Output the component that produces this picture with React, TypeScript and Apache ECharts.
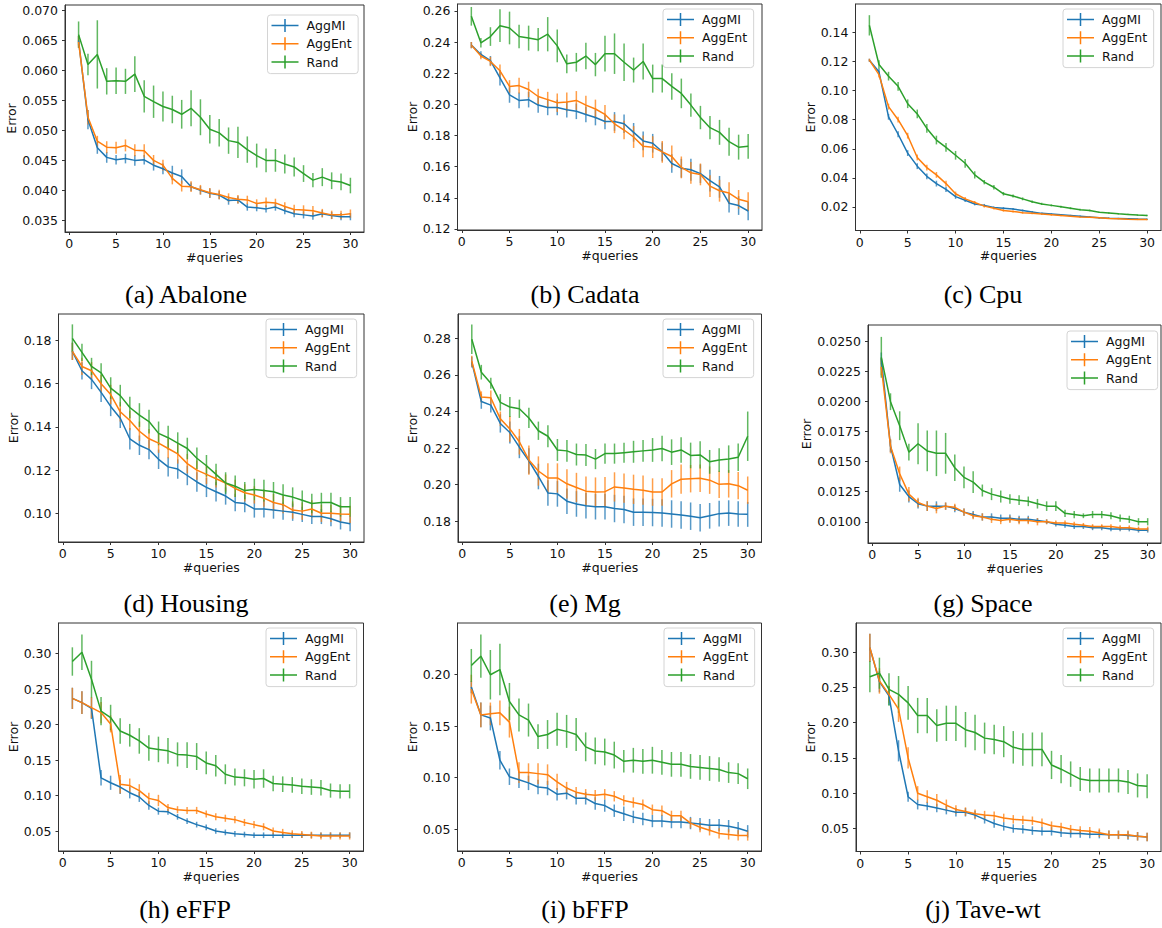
import React, { useEffect, useRef } from 'react';
import * as echarts from 'echarts';

const queries = [1, 2, 3, 4, 5, 6, 7, 8, 9, 10, 11, 12, 13, 14, 15, 16, 17, 18, 19, 20, 21, 22, 23, 24, 25, 26, 27, 28, 29, 30];
const xTickLabels = ['0', '5', '10', '15', '20', '25', '30'];
const seriesNames = ['AggMI', 'AggEnt', 'Rand'];

// (a) Abalone
const abaloneAggMI = [0.0650, 0.0518, 0.0471, 0.0455, 0.0451, 0.0453, 0.0450, 0.0451, 0.0442, 0.0436, 0.0429, 0.0423, 0.0406, 0.0400, 0.0395, 0.0392, 0.0383, 0.0384, 0.0372, 0.0371, 0.0369, 0.0372, 0.0366, 0.0361, 0.0359, 0.0357, 0.0361, 0.0358, 0.0356, 0.0356];
const abaloneAggMIErr = [0.0008, 0.0016, 0.0010, 0.0009, 0.0008, 0.0008, 0.0009, 0.0008, 0.0009, 0.0009, 0.0012, 0.0012, 0.0007, 0.0007, 0.0008, 0.0007, 0.0007, 0.0006, 0.0006, 0.0006, 0.0006, 0.0006, 0.0006, 0.0006, 0.0006, 0.0006, 0.0006, 0.0006, 0.0006, 0.0006];
const abaloneAggEnt = [0.0648, 0.0522, 0.0482, 0.0472, 0.0471, 0.0475, 0.0467, 0.0466, 0.0450, 0.0442, 0.0420, 0.0407, 0.0406, 0.0401, 0.0396, 0.0393, 0.0388, 0.0385, 0.0384, 0.0378, 0.0380, 0.0379, 0.0373, 0.0368, 0.0367, 0.0366, 0.0362, 0.0359, 0.0359, 0.0361];
const abaloneAggEntErr = [0.0010, 0.0012, 0.0009, 0.0010, 0.0010, 0.0010, 0.0010, 0.0011, 0.0009, 0.0009, 0.0010, 0.0009, 0.0009, 0.0008, 0.0008, 0.0008, 0.0007, 0.0007, 0.0007, 0.0007, 0.0008, 0.0007, 0.0007, 0.0008, 0.0008, 0.0008, 0.0007, 0.0007, 0.0007, 0.0007];
const abaloneRand = [0.0660, 0.0610, 0.0627, 0.0582, 0.0583, 0.0582, 0.0594, 0.0557, 0.0548, 0.0540, 0.0535, 0.0527, 0.0537, 0.0522, 0.0502, 0.0496, 0.0483, 0.0480, 0.0468, 0.0458, 0.0450, 0.0450, 0.0444, 0.0439, 0.0428, 0.0417, 0.0422, 0.0416, 0.0414, 0.0408];
const abaloneRandErr = [0.0022, 0.0018, 0.0057, 0.0022, 0.0022, 0.0021, 0.0030, 0.0027, 0.0027, 0.0025, 0.0023, 0.0024, 0.0030, 0.0030, 0.0024, 0.0023, 0.0022, 0.0026, 0.0022, 0.0020, 0.0020, 0.0019, 0.0016, 0.0016, 0.0014, 0.0012, 0.0015, 0.0014, 0.0014, 0.0013];
const abaloneYTicks = ['0.035', '0.040', '0.045', '0.050', '0.055', '0.060', '0.065', '0.070'];

// (b) Cadata
const cadataAggMI = [0.238, 0.232, 0.228, 0.217, 0.206, 0.2025, 0.203, 0.1995, 0.198, 0.198, 0.1965, 0.1955, 0.1935, 0.1915, 0.189, 0.189, 0.1875, 0.182, 0.1765, 0.175, 0.1695, 0.162, 0.159, 0.158, 0.1555, 0.151, 0.147, 0.1365, 0.135, 0.1315];
const cadataAggMIErr = [0.002, 0.002, 0.003, 0.005, 0.005, 0.005, 0.005, 0.005, 0.005, 0.005, 0.005, 0.005, 0.005, 0.005, 0.005, 0.006, 0.006, 0.006, 0.006, 0.006, 0.006, 0.006, 0.006, 0.007, 0.006, 0.007, 0.007, 0.006, 0.006, 0.006];
const cadataAggEnt = [0.238, 0.231, 0.2275, 0.2215, 0.2115, 0.212, 0.2095, 0.205, 0.203, 0.201, 0.2015, 0.2025, 0.1995, 0.197, 0.1935, 0.1875, 0.1835, 0.179, 0.173, 0.1725, 0.1695, 0.1665, 0.1595, 0.156, 0.155, 0.1475, 0.1445, 0.143, 0.139, 0.1375];
const cadataAggEntErr = [0.002, 0.002, 0.003, 0.004, 0.004, 0.005, 0.005, 0.005, 0.005, 0.006, 0.006, 0.006, 0.006, 0.006, 0.006, 0.006, 0.006, 0.007, 0.007, 0.007, 0.007, 0.007, 0.007, 0.007, 0.007, 0.007, 0.007, 0.007, 0.006, 0.006];
const cadataRand = [0.2565, 0.2395, 0.2435, 0.2505, 0.249, 0.2435, 0.2425, 0.2415, 0.245, 0.2375, 0.226, 0.227, 0.231, 0.2255, 0.2325, 0.2325, 0.227, 0.222, 0.2275, 0.2165, 0.2165, 0.2115, 0.207, 0.1995, 0.1915, 0.185, 0.182, 0.176, 0.1725, 0.173];
const cadataRandErr = [0.006, 0.003, 0.006, 0.0105, 0.0105, 0.0075, 0.008, 0.0075, 0.011, 0.0105, 0.006, 0.006, 0.0085, 0.0075, 0.0115, 0.013, 0.012, 0.008, 0.0115, 0.009, 0.009, 0.0085, 0.0095, 0.0075, 0.0075, 0.0075, 0.008, 0.009, 0.008, 0.008];
const cadataYTicks = ['0.12', '0.14', '0.16', '0.18', '0.20', '0.22', '0.24', '0.26'];

// (c) Cpu
const cpuAggMI = [0.121, 0.113, 0.082, 0.070, 0.057, 0.048, 0.041, 0.036, 0.032, 0.027, 0.0245, 0.022, 0.021, 0.0195, 0.019, 0.0185, 0.0175, 0.0165, 0.0155, 0.015, 0.0145, 0.014, 0.0135, 0.013, 0.0125, 0.0122, 0.012, 0.0118, 0.0116, 0.0115];
const cpuAggMIErr = [0.001, 0.002, 0.002, 0.002, 0.002, 0.002, 0.002, 0.002, 0.0018, 0.0015, 0.0012, 0.001, 0.001, 0.0008, 0.0008, 0.0007, 0.0007, 0.0006, 0.0006, 0.0006, 0.0005, 0.0005, 0.0005, 0.0005, 0.0005, 0.0004, 0.0004, 0.0004, 0.0004, 0.0004];
const cpuAggEnt = [0.121, 0.111, 0.089, 0.080, 0.069, 0.054, 0.047, 0.042, 0.036, 0.029, 0.0255, 0.023, 0.0205, 0.019, 0.0175, 0.0168, 0.016, 0.0155, 0.015, 0.0145, 0.014, 0.0135, 0.013, 0.0128, 0.0125, 0.012, 0.0118, 0.0115, 0.0113, 0.0112];
const cpuAggEntErr = [0.001, 0.002, 0.002, 0.002, 0.002, 0.002, 0.002, 0.002, 0.002, 0.0015, 0.0012, 0.001, 0.001, 0.0008, 0.0008, 0.0007, 0.0007, 0.0006, 0.0006, 0.0006, 0.0005, 0.0005, 0.0005, 0.0005, 0.0005, 0.0004, 0.0004, 0.0004, 0.0004, 0.0004];
const cpuRand = [0.145, 0.118, 0.110, 0.103, 0.091, 0.084, 0.074, 0.066, 0.061, 0.0555, 0.050, 0.042, 0.037, 0.0335, 0.029, 0.0275, 0.0255, 0.0235, 0.022, 0.021, 0.020, 0.019, 0.018, 0.0175, 0.0162, 0.0158, 0.0152, 0.0148, 0.0143, 0.014];
const cpuRandErr = [0.007, 0.003, 0.003, 0.003, 0.003, 0.003, 0.003, 0.003, 0.003, 0.003, 0.003, 0.0025, 0.0015, 0.0015, 0.0012, 0.001, 0.001, 0.0008, 0.0008, 0.0007, 0.0007, 0.0007, 0.0006, 0.0006, 0.0005, 0.0005, 0.0005, 0.0005, 0.0005, 0.0005];
const cpuYTicks = ['0.02', '0.04', '0.06', '0.08', '0.10', '0.12', '0.14'];

// (d) Housing
const housingAggMI = [0.175, 0.166, 0.162, 0.156, 0.1495, 0.144, 0.1345, 0.1315, 0.1295, 0.125, 0.1215, 0.1205, 0.1175, 0.1145, 0.112, 0.110, 0.108, 0.105, 0.1045, 0.102, 0.102, 0.1015, 0.101, 0.1005, 0.0995, 0.0985, 0.0985, 0.0975, 0.096, 0.0952];
const housingAggMIErr = [0.004, 0.004, 0.0045, 0.0045, 0.0045, 0.0045, 0.005, 0.0045, 0.0045, 0.0045, 0.0045, 0.0045, 0.0045, 0.0045, 0.0045, 0.0045, 0.004, 0.004, 0.004, 0.004, 0.004, 0.004, 0.004, 0.004, 0.0035, 0.0035, 0.0035, 0.0035, 0.0035, 0.0035];
const housingAggEnt = [0.175, 0.168, 0.166, 0.160, 0.155, 0.147, 0.143, 0.138, 0.1345, 0.1325, 0.130, 0.1275, 0.123, 0.120, 0.118, 0.116, 0.114, 0.1115, 0.1095, 0.1085, 0.107, 0.105, 0.104, 0.1015, 0.101, 0.102, 0.100, 0.100, 0.0997, 0.0995];
const housingAggEntErr = [0.004, 0.004, 0.004, 0.004, 0.0045, 0.0045, 0.0045, 0.0045, 0.0045, 0.0045, 0.0045, 0.0045, 0.0045, 0.0045, 0.0045, 0.004, 0.004, 0.004, 0.004, 0.004, 0.004, 0.004, 0.004, 0.004, 0.004, 0.004, 0.004, 0.004, 0.004, 0.004];
const housingRand = [0.181, 0.1745, 0.168, 0.165, 0.158, 0.1545, 0.149, 0.1455, 0.1425, 0.137, 0.135, 0.1325, 0.130, 0.1255, 0.122, 0.118, 0.114, 0.1125, 0.1105, 0.111, 0.1105, 0.110, 0.1085, 0.1075, 0.106, 0.1045, 0.105, 0.105, 0.103, 0.103];
const housingRandErr = [0.0065, 0.004, 0.004, 0.0045, 0.005, 0.005, 0.005, 0.0055, 0.0055, 0.0055, 0.0055, 0.005, 0.005, 0.005, 0.005, 0.005, 0.005, 0.005, 0.004, 0.005, 0.005, 0.0045, 0.005, 0.0045, 0.0045, 0.0045, 0.0045, 0.0045, 0.0045, 0.0045];
const housingYTicks = ['0.10', '0.12', '0.14', '0.16', '0.18'];

// (e) Mg
const mgAggMI = [0.267, 0.2455, 0.2435, 0.2335, 0.2285, 0.2205, 0.213, 0.2045, 0.1955, 0.195, 0.191, 0.1895, 0.1885, 0.188, 0.188, 0.187, 0.1865, 0.185, 0.185, 0.1848, 0.1845, 0.184, 0.1835, 0.1828, 0.182, 0.183, 0.1842, 0.1845, 0.184, 0.1838];
const mgAggMIErr = [0.003, 0.004, 0.004, 0.005, 0.006, 0.006, 0.007, 0.007, 0.007, 0.007, 0.007, 0.007, 0.007, 0.007, 0.007, 0.0075, 0.0075, 0.0075, 0.0075, 0.0075, 0.0075, 0.0075, 0.0075, 0.0075, 0.0075, 0.007, 0.007, 0.007, 0.007, 0.0068];
const mgAggEnt = [0.2675, 0.248, 0.2475, 0.236, 0.2305, 0.2235, 0.2135, 0.2075, 0.2037, 0.2037, 0.2005, 0.1985, 0.1965, 0.196, 0.1962, 0.1988, 0.1982, 0.1975, 0.197, 0.196, 0.196, 0.2005, 0.203, 0.2033, 0.2035, 0.2025, 0.2002, 0.2005, 0.1995, 0.197];
const mgAggEntErr = [0.003, 0.003, 0.004, 0.004, 0.007, 0.007, 0.008, 0.008, 0.008, 0.008, 0.008, 0.008, 0.008, 0.008, 0.008, 0.008, 0.008, 0.008, 0.008, 0.0075, 0.0075, 0.0075, 0.008, 0.0075, 0.0075, 0.0075, 0.0075, 0.0075, 0.0075, 0.0075];
const mgRand = [0.2795, 0.2615, 0.2555, 0.245, 0.2425, 0.2415, 0.2365, 0.2295, 0.2265, 0.219, 0.2185, 0.2165, 0.2162, 0.214, 0.217, 0.217, 0.2175, 0.218, 0.2185, 0.219, 0.2198, 0.2178, 0.219, 0.216, 0.2163, 0.2125, 0.2135, 0.214, 0.215, 0.2265];
const mgRandErr = [0.008, 0.004, 0.003, 0.0045, 0.0055, 0.005, 0.0055, 0.005, 0.006, 0.006, 0.006, 0.006, 0.006, 0.0055, 0.0055, 0.0055, 0.0055, 0.006, 0.006, 0.0065, 0.007, 0.007, 0.007, 0.007, 0.0075, 0.0065, 0.0065, 0.0075, 0.0075, 0.0135];
const mgYTicks = ['0.18', '0.20', '0.22', '0.24', '0.26', '0.28'];

// (g) Space
const spaceAggMI = [0.0236, 0.0163, 0.0131, 0.0121, 0.0115, 0.0113, 0.0113, 0.0113, 0.0111, 0.0108, 0.0106, 0.0104, 0.0104, 0.0103, 0.0103, 0.0102, 0.0102, 0.0101, 0.0100, 0.0098, 0.0097, 0.0096, 0.0096, 0.0095, 0.0095, 0.0094, 0.0094, 0.0094, 0.0093, 0.0093];
const spaceAggMIErr = [0.0005, 0.0005, 0.0006, 0.0005, 0.0004, 0.0004, 0.0004, 0.0003, 0.0003, 0.0003, 0.0003, 0.0003, 0.0003, 0.0003, 0.0003, 0.0003, 0.0003, 0.0002, 0.0002, 0.0002, 0.0002, 0.0002, 0.0002, 0.0002, 0.0002, 0.0002, 0.0002, 0.0002, 0.0002, 0.0002];
const spaceAggEnt = [0.0229, 0.0163, 0.0140, 0.0123, 0.0116, 0.0113, 0.0111, 0.0113, 0.0112, 0.0108, 0.0105, 0.0104, 0.0102, 0.0101, 0.0102, 0.0101, 0.0101, 0.0100, 0.0100, 0.0099, 0.0099, 0.0098, 0.0097, 0.0096, 0.0096, 0.0096, 0.0095, 0.0095, 0.0094, 0.0094];
const spaceAggEntErr = [0.0007, 0.0006, 0.0006, 0.0006, 0.0004, 0.0004, 0.0004, 0.0003, 0.0003, 0.0003, 0.0003, 0.0003, 0.0003, 0.0003, 0.0003, 0.0003, 0.0003, 0.0003, 0.0002, 0.0002, 0.0002, 0.0002, 0.0002, 0.0002, 0.0002, 0.0002, 0.0002, 0.0002, 0.0002, 0.0002];
const spaceRand = [0.0237, 0.0200, 0.0180, 0.0158, 0.0165, 0.0159, 0.0157, 0.0157, 0.0145, 0.0137, 0.0133, 0.0126, 0.0123, 0.0121, 0.0119, 0.0118, 0.0117, 0.0115, 0.0113, 0.0113, 0.0107, 0.0106, 0.0105, 0.0106, 0.0106, 0.0105, 0.0103, 0.0102, 0.0100, 0.0100];
const spaceRandErr = [0.0017, 0.0007, 0.0012, 0.0007, 0.0017, 0.0017, 0.0019, 0.0017, 0.0011, 0.0009, 0.0009, 0.0005, 0.0005, 0.0005, 0.0004, 0.0004, 0.0004, 0.0004, 0.0004, 0.0004, 0.0003, 0.0003, 0.0002, 0.0003, 0.0003, 0.0003, 0.0003, 0.0003, 0.0003, 0.0003];
const spaceYTicks = ['0.0100', '0.0125', '0.0150', '0.0175', '0.0200', '0.0225', '0.0250'];

// (h) eFFP
const effpAggMI = [0.237, 0.231, 0.223, 0.125, 0.118, 0.112, 0.104, 0.098, 0.086, 0.078, 0.077, 0.070, 0.064, 0.059, 0.055, 0.050, 0.048, 0.046, 0.045, 0.044, 0.044, 0.044, 0.044, 0.044, 0.044, 0.044, 0.044, 0.044, 0.044, 0.044];
const effpAggMIErr = [0.015, 0.016, 0.015, 0.011, 0.010, 0.010, 0.008, 0.007, 0.006, 0.005, 0.004, 0.004, 0.004, 0.004, 0.004, 0.004, 0.004, 0.004, 0.004, 0.004, 0.004, 0.004, 0.004, 0.004, 0.004, 0.004, 0.004, 0.004, 0.004, 0.004];
const effpAggEnt = [0.237, 0.231, 0.224, 0.217, 0.201, 0.116, 0.114, 0.107, 0.096, 0.093, 0.083, 0.080, 0.079, 0.079, 0.074, 0.070, 0.068, 0.066, 0.062, 0.059, 0.056, 0.050, 0.048, 0.046, 0.045, 0.044, 0.043, 0.043, 0.043, 0.043];
const effpAggEntErr = [0.015, 0.016, 0.015, 0.015, 0.012, 0.013, 0.010, 0.009, 0.008, 0.008, 0.005, 0.005, 0.005, 0.005, 0.005, 0.005, 0.005, 0.005, 0.005, 0.005, 0.005, 0.005, 0.005, 0.005, 0.005, 0.005, 0.005, 0.005, 0.005, 0.005];
const effpRand = [0.289, 0.302, 0.264, 0.219, 0.210, 0.191, 0.185, 0.177, 0.167, 0.165, 0.163, 0.158, 0.157, 0.155, 0.146, 0.142, 0.130, 0.126, 0.125, 0.123, 0.124, 0.117, 0.116, 0.115, 0.113, 0.112, 0.111, 0.107, 0.106, 0.106];
const effpRandErr = [0.020, 0.025, 0.026, 0.020, 0.018, 0.018, 0.016, 0.018, 0.018, 0.018, 0.018, 0.017, 0.018, 0.019, 0.016, 0.015, 0.014, 0.012, 0.012, 0.013, 0.013, 0.011, 0.011, 0.011, 0.011, 0.011, 0.011, 0.010, 0.010, 0.010];
const effpYTicks = ['0.05', '0.10', '0.15', '0.20', '0.25', '0.30'];

// (i) bFFP
const bffpAggMI = [0.188, 0.161, 0.158, 0.117, 0.101, 0.098, 0.095, 0.091, 0.090, 0.084, 0.085, 0.080, 0.080, 0.075, 0.073, 0.068, 0.065, 0.062, 0.060, 0.058, 0.058, 0.057, 0.057, 0.056, 0.055, 0.054, 0.054, 0.053, 0.051, 0.048];
const bffpAggMIErr = [0.006, 0.012, 0.012, 0.009, 0.008, 0.008, 0.007, 0.007, 0.007, 0.006, 0.006, 0.006, 0.006, 0.006, 0.006, 0.006, 0.007, 0.006, 0.006, 0.006, 0.006, 0.006, 0.006, 0.006, 0.006, 0.006, 0.006, 0.006, 0.006, 0.006];
const bffpAggEnt = [0.186, 0.161, 0.162, 0.163, 0.154, 0.105, 0.105, 0.104, 0.103, 0.096, 0.090, 0.086, 0.084, 0.083, 0.084, 0.082, 0.078, 0.076, 0.074, 0.069, 0.068, 0.063, 0.063, 0.056, 0.052, 0.049, 0.046, 0.045, 0.044, 0.044];
const bffpAggEntErr = [0.014, 0.012, 0.011, 0.012, 0.015, 0.010, 0.009, 0.010, 0.010, 0.008, 0.006, 0.005, 0.005, 0.005, 0.005, 0.005, 0.005, 0.005, 0.005, 0.005, 0.005, 0.005, 0.005, 0.005, 0.005, 0.005, 0.005, 0.005, 0.005, 0.005];
const bffpRand = [0.209, 0.218, 0.200, 0.205, 0.174, 0.161, 0.156, 0.140, 0.142, 0.147, 0.145, 0.142, 0.130, 0.126, 0.125, 0.122, 0.116, 0.117, 0.116, 0.117, 0.115, 0.113, 0.113, 0.111, 0.110, 0.109, 0.108, 0.105, 0.104, 0.099];
const bffpRandErr = [0.016, 0.021, 0.024, 0.025, 0.018, 0.016, 0.016, 0.012, 0.014, 0.016, 0.016, 0.016, 0.014, 0.013, 0.013, 0.013, 0.011, 0.012, 0.012, 0.013, 0.012, 0.012, 0.012, 0.012, 0.012, 0.012, 0.012, 0.010, 0.010, 0.010];
const bffpYTicks = ['0.05', '0.10', '0.15', '0.20'];

// (j) Tave-wt
const tavewtAggMI = [0.306, 0.258, 0.238, 0.160, 0.095, 0.084, 0.082, 0.079, 0.076, 0.073, 0.073, 0.069, 0.063, 0.057, 0.053, 0.050, 0.049, 0.047, 0.046, 0.046, 0.044, 0.043, 0.043, 0.042, 0.042, 0.041, 0.041, 0.040, 0.039, 0.038];
const tavewtAggMIErr = [0.020, 0.015, 0.013, 0.015, 0.007, 0.007, 0.006, 0.006, 0.006, 0.006, 0.006, 0.006, 0.006, 0.006, 0.006, 0.006, 0.006, 0.006, 0.006, 0.006, 0.006, 0.006, 0.006, 0.006, 0.006, 0.006, 0.006, 0.006, 0.006, 0.006];
const tavewtAggEnt = [0.306, 0.259, 0.240, 0.219, 0.150, 0.100, 0.095, 0.090, 0.083, 0.077, 0.074, 0.071, 0.069, 0.068, 0.065, 0.063, 0.062, 0.061, 0.058, 0.054, 0.052, 0.049, 0.047, 0.046, 0.044, 0.041, 0.041, 0.041, 0.039, 0.038];
const tavewtAggEntErr = [0.020, 0.018, 0.012, 0.018, 0.015, 0.010, 0.009, 0.009, 0.008, 0.006, 0.006, 0.006, 0.006, 0.006, 0.006, 0.006, 0.006, 0.006, 0.006, 0.006, 0.006, 0.006, 0.006, 0.006, 0.006, 0.006, 0.006, 0.006, 0.006, 0.006];
const tavewtRand = [0.265, 0.270, 0.247, 0.240, 0.228, 0.210, 0.210, 0.196, 0.199, 0.199, 0.190, 0.186, 0.178, 0.176, 0.173, 0.165, 0.162, 0.162, 0.162, 0.140, 0.134, 0.127, 0.120, 0.118, 0.118, 0.118, 0.118, 0.116, 0.111, 0.110];
const tavewtRandErr = [0.022, 0.022, 0.023, 0.026, 0.024, 0.025, 0.025, 0.023, 0.025, 0.025, 0.025, 0.025, 0.022, 0.021, 0.022, 0.023, 0.023, 0.024, 0.024, 0.020, 0.020, 0.018, 0.017, 0.017, 0.017, 0.017, 0.017, 0.017, 0.017, 0.017];
const tavewtYTicks = ['0.05', '0.10', '0.15', '0.20', '0.25', '0.30'];

const captions = ['(a) Abalone', '(b) Cadata', '(c) Cpu', '(d) Housing', '(e) Mg', '(g) Space', '(h) eFFP', '(i) bFFP', '(j) Tave-wt'];

const panelData = [
  { values: [abaloneAggMI, abaloneAggEnt, abaloneRand], errors: [abaloneAggMIErr, abaloneAggEntErr, abaloneRandErr], yTicks: abaloneYTicks, yMin: 0.03304, yMax: 0.07095 },
  { values: [cadataAggMI, cadataAggEnt, cadataRand], errors: [cadataAggMIErr, cadataAggEntErr, cadataRandErr], yTicks: cadataYTicks, yMin: 0.1193, yMax: 0.2644 },
  { values: [cpuAggMI, cpuAggEnt, cpuRand], errors: [cpuAggMIErr, cpuAggEntErr, cpuRandErr], yTicks: cpuYTicks, yMin: 0.0037, yMax: 0.1597 },
  { values: [housingAggMI, housingAggEnt, housingRand], errors: [housingAggMIErr, housingAggEntErr, housingRandErr], yTicks: housingYTicks, yMin: 0.0867, yMax: 0.1923 },
  { values: [mgAggMI, mgAggEnt, mgRand], errors: [mgAggMIErr, mgAggEntErr, mgRandErr], yTicks: mgYTicks, yMin: 0.1687, yMax: 0.2933 },
  { values: [spaceAggMI, spaceAggEnt, spaceRand], errors: [spaceAggMIErr, spaceAggEntErr, spaceRandErr], yTicks: spaceYTicks, yMin: 0.00823, yMax: 0.02639 },
  { values: [effpAggMI, effpAggEnt, effpRand], errors: [effpAggMIErr, effpAggEntErr, effpRandErr], yTicks: effpYTicks, yMin: 0.0218, yMax: 0.3433 },
  { values: [bffpAggMI, bffpAggEnt, bffpRand], errors: [bffpAggMIErr, bffpAggEntErr, bffpRandErr], yTicks: bffpYTicks, yMin: 0.0289, yMax: 0.2502 },
  { values: [tavewtAggMI, tavewtAggEnt, tavewtRand], errors: [tavewtAggMIErr, tavewtAggEntErr, tavewtRandErr], yTicks: tavewtYTicks, yMin: 0.0174, yMax: 0.3411 },
];

// Layout (pixels)
const layout = [
  { left: 65, top: 5, right: 364, bottom: 232, legendLeft: 267.5, legendTop: 15, nameGap: 45, capX: 186, capY: 294 },
  { left: 457.5, top: 4, right: 762, bottom: 230, legendLeft: 663, legendTop: 9, nameGap: 37, capX: 585, capY: 294 },
  { left: 855.5, top: 4, right: 1161, bottom: 230.5, legendLeft: 1063, legendTop: 9, nameGap: 37, capX: 983, capY: 294 },
  { left: 58.5, top: 314, right: 364, bottom: 542, legendLeft: 266, legendTop: 319, nameGap: 37.5, capX: 186, capY: 603 },
  { left: 458, top: 314, right: 761.5, bottom: 542, legendLeft: 663, legendTop: 319, nameGap: 37, capX: 585, capY: 603 },
  { left: 868, top: 325, right: 1161, bottom: 543, legendLeft: 1067, legendTop: 331, nameGap: 51, capX: 983, capY: 603 },
  { left: 58.5, top: 623, right: 363.5, bottom: 851, legendLeft: 266, legendTop: 628, nameGap: 38, capX: 185, capY: 909 },
  { left: 457.5, top: 623, right: 761.5, bottom: 851, legendLeft: 664, legendTop: 628, nameGap: 38, capX: 585, capY: 909 },
  { left: 856, top: 623, right: 1161, bottom: 851.5, legendLeft: 1063, legendTop: 628, nameGap: 38, capX: 983, capY: 909 },
];

const colors = ['#1f77b4', '#ff7f0e', '#2ca02c'];
const FONT = 'DejaVu Sans';
const AXIS_COLOR = '#333';
const TEXT_COLOR = '#111';
const LEGEND_ICON = 'path://M0,5.75H27V7.25H0Z M12.75,0H14.25V13H12.75Z';

function buildOption() {
  const grids: any[] = [];
  const xAxes: any[] = [];
  const yAxes: any[] = [];
  const series: any[] = [];
  const legends: any[] = [];
  const graphics: any[] = [];
  const xTickValues = xTickLabels.map(Number);

  panelData.forEach((p, i) => {
    const L = layout[i];
    grids.push({
      left: L.left, top: L.top, width: L.right - L.left, height: L.bottom - L.top,
      show: true, borderColor: AXIS_COLOR, borderWidth: 1, backgroundColor: 'transparent', containLabel: false,
    });
    xAxes.push({
      type: 'value', gridIndex: i, min: -0.45, max: 31.45,
      name: '#queries', nameLocation: 'middle', nameGap: 17,
      nameTextStyle: { fontFamily: FONT, fontSize: 12.5, color: TEXT_COLOR },
      axisLine: { show: true, onZero: false, lineStyle: { color: AXIS_COLOR, width: 1 } },
      axisTick: { show: true, length: 3, customValues: xTickValues, lineStyle: { color: AXIS_COLOR, width: 1 } },
      axisLabel: { customValues: xTickValues, margin: 5, fontFamily: FONT, fontSize: 12.5, color: TEXT_COLOR, formatter: (v: number) => String(Math.round(v)) },
      splitLine: { show: false },
    });
    const yVals = p.yTicks.map(Number);
    const decimals = p.yTicks[0].split('.')[1].length;
    yAxes.push({
      type: 'value', gridIndex: i, min: p.yMin, max: p.yMax,
      name: 'Error', nameLocation: 'middle', nameGap: L.nameGap, nameRotate: 90,
      nameTextStyle: { fontFamily: FONT, fontSize: 12.5, color: TEXT_COLOR },
      axisLine: { show: true, onZero: false, lineStyle: { color: AXIS_COLOR, width: 1 } },
      axisTick: { show: true, length: 3, customValues: yVals, lineStyle: { color: AXIS_COLOR, width: 1 } },
      axisLabel: { customValues: yVals, margin: 7, fontFamily: FONT, fontSize: 12.5, color: TEXT_COLOR, formatter: (v: number) => v.toFixed(decimals) },
      splitLine: { show: false },
    });
    seriesNames.forEach((name, s) => {
      const vals = p.values[s];
      const errs = p.errors[s];
      series.push({
        type: 'line', name, xAxisIndex: i, yAxisIndex: i,
        data: queries.map((q, k) => [q, vals[k]]),
        showSymbol: false, symbol: 'none', color: colors[s],
        lineStyle: { color: colors[s], width: 1.5 }, silent: true, z: 2,
      });
      series.push({
        type: 'custom', name, xAxisIndex: i, yAxisIndex: i,
        data: queries.map((q, k) => [q, vals[k], errs[k]]),
        encode: { x: 0, y: 1 }, color: colors[s], silent: true, z: 2,
        renderItem: (params: any, api: any) => {
          const x = api.value(0);
          const y = api.value(1);
          const e = api.value(2);
          const a = api.coord([x, y + e]);
          const b = api.coord([x, y - e]);
          return {
            type: 'line',
            shape: { x1: a[0], y1: a[1], x2: b[0], y2: b[1] },
            style: { stroke: colors[s], lineWidth: 1.5, opacity: 0.75 },
          };
        },
      });
    });
    legends.push({
      data: seriesNames, orient: 'vertical', left: L.legendLeft, top: L.legendTop,
      itemWidth: 27, itemHeight: 13, itemGap: 5.3, icon: LEGEND_ICON,
      padding: [4, 6.5, 5, 4], backgroundColor: 'rgba(255,255,255,0.8)',
      borderColor: '#d4d4d4', borderWidth: 1, borderRadius: 3, selectedMode: false,
      itemStyle: { borderWidth: 0 },
      textStyle: { fontFamily: FONT, fontSize: 12.5, color: TEXT_COLOR, lineHeight: 13, padding: [0, 0, 0, 3] },
    });
    graphics.push({
      type: 'text', x: L.capX, y: L.capY, silent: true,
      style: { text: captions[i], fill: '#000', fontFamily: 'Liberation Serif', fontSize: 26, align: 'center', verticalAlign: 'middle' },
    });
  });

  return {
    animation: false,
    backgroundColor: '#fff',
    grid: grids, xAxis: xAxes, yAxis: yAxes, series, legend: legends, graphic: graphics,
  };
}

export default function App() {
  const ref = useRef<HTMLDivElement>(null);
  useEffect(() => {
    if (!ref.current) return;
    const chart = echarts.init(ref.current, undefined, { renderer: 'svg' });
    chart.setOption(buildOption());
    return () => chart.dispose();
  }, []);
  return <div ref={ref} style={{ position: 'fixed', left: 0, top: 0, width: 1162, height: 928, background: '#fff' }} />;
}
